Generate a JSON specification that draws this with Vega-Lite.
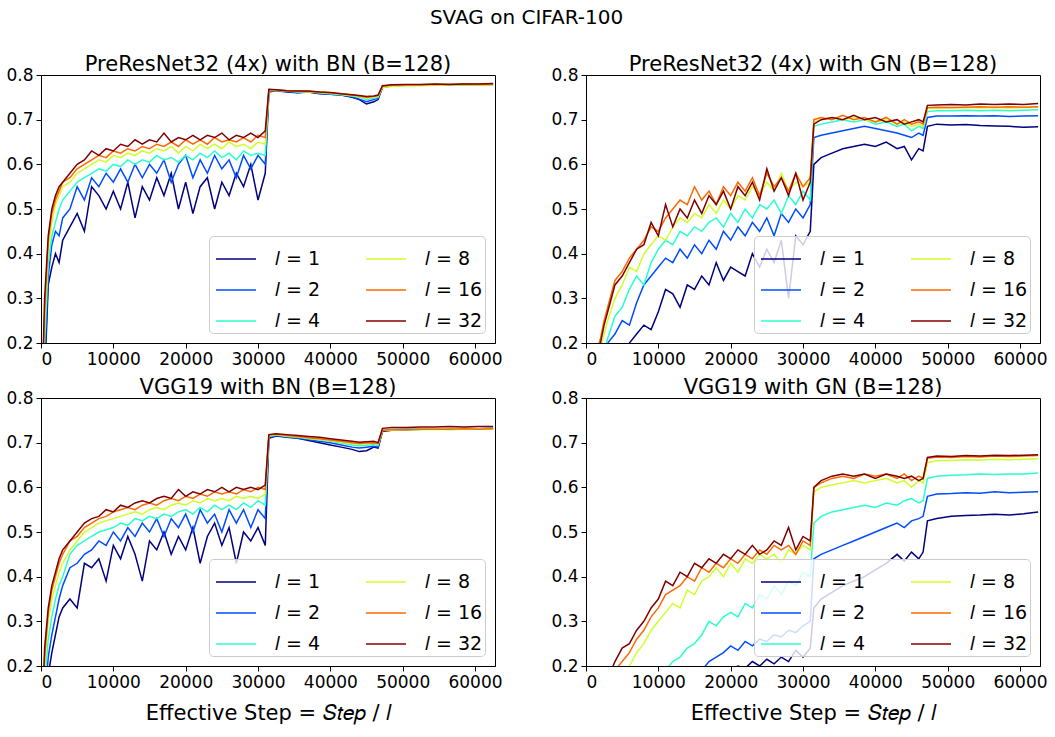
{
"$schema":"https://vega.github.io/schema/vega-lite/v6.json",
"title":{"text":"SVAG on CIFAR-100","fontSize":20,"fontWeight":"normal","font":"DejaVu Sans","color":"black","anchor":"middle","offset":26},
"padding":{"left":5,"top":7,"right":8,"bottom":3},
"background":"white",
"config":{
"font":"DejaVu Sans",
"view":{"stroke":"black","strokeWidth":1},
"axis":{"grid":false,"domainColor":"black","tickColor":"black","labelColor":"black","labelFontSize":17,"labelFont":"DejaVu Sans","tickSize":5,"labelPadding":3,"titleFontSize":21,"titleFontWeight":"normal","titleColor":"black","titleFont":"DejaVu Sans","domainWidth":1,"tickWidth":1},
"title":{"fontSize":21,"fontWeight":"normal","color":"black","font":"DejaVu Sans","offset":-9},
"legend":{"orient":"bottom-right","offset":10,"columns":2,"symbolType":"stroke","symbolSize":1600,"symbolStrokeWidth":1.5,"symbolOffset":4,"labelFontSize":19,"labelFont":"DejaVu Sans","labelColor":"black","fillColor":"rgba(255,255,255,0.8)","strokeColor":"#cccccc","cornerRadius":4,"padding":2,"rowPadding":-2,"columnPadding":40,"labelOffset":18,"title":null}
},
"columns":2,
"spacing":{"row":55,"column":91},
"bounds":"flush",
"resolve":{"scale":{"color":"independent"},"legend":{"color":"independent"}},
"datasets":{
"a":[
{"l":1,"x":0,"y":0.01},{"l":1,"x":500,"y":0.12},{"l":1,"x":1000,"y":0.33},{"l":1,"x":1500,"y":0.37},{"l":1,"x":2000,"y":0.4},{"l":1,"x":2500,"y":0.38},{"l":1,"x":3000,"y":0.43},{"l":1,"x":4000,"y":0.46},{"l":1,"x":5000,"y":0.49},{"l":1,"x":6000,"y":0.45},{"l":1,"x":7000,"y":0.55},{"l":1,"x":8000,"y":0.53},{"l":1,"x":9000,"y":0.5},{"l":1,"x":10000,"y":0.54},{"l":1,"x":11000,"y":0.5},{"l":1,"x":12000,"y":0.56},{"l":1,"x":13000,"y":0.48},{"l":1,"x":14000,"y":0.55},{"l":1,"x":15000,"y":0.52},{"l":1,"x":16000,"y":0.57},{"l":1,"x":17000,"y":0.53},{"l":1,"x":18000,"y":0.58},{"l":1,"x":19000,"y":0.5},{"l":1,"x":20000,"y":0.56},{"l":1,"x":21000,"y":0.49},{"l":1,"x":22000,"y":0.55},{"l":1,"x":23000,"y":0.57},{"l":1,"x":24000,"y":0.5},{"l":1,"x":25000,"y":0.56},{"l":1,"x":26000,"y":0.53},{"l":1,"x":27000,"y":0.58},{"l":1,"x":28000,"y":0.55},{"l":1,"x":29000,"y":0.6},{"l":1,"x":30000,"y":0.52},{"l":1,"x":31000,"y":0.58},
{"l":1,"x":31500,"y":0.762},{"l":1,"x":32500,"y":0.765},{"l":1,"x":34000,"y":0.762},{"l":1,"x":35500,"y":0.76},{"l":1,"x":37000,"y":0.762},{"l":1,"x":38500,"y":0.758},{"l":1,"x":40000,"y":0.757},{"l":1,"x":41500,"y":0.755},{"l":1,"x":43000,"y":0.75},{"l":1,"x":44000,"y":0.745},{"l":1,"x":45000,"y":0.735},{"l":1,"x":46000,"y":0.74},{"l":1,"x":46600,"y":0.745},
{"l":1,"x":47200,"y":0.772},{"l":1,"x":48500,"y":0.776},{"l":1,"x":50500,"y":0.777},{"l":1,"x":52500,"y":0.778},{"l":1,"x":54500,"y":0.777},{"l":1,"x":56500,"y":0.778},{"l":1,"x":58500,"y":0.779},{"l":1,"x":60500,"y":0.778},{"l":1,"x":62500,"y":0.779},
{"l":2,"x":0,"y":0.01},{"l":2,"x":500,"y":0.15},{"l":2,"x":1000,"y":0.35},{"l":2,"x":1500,"y":0.42},{"l":2,"x":2000,"y":0.45},{"l":2,"x":2500,"y":0.44},{"l":2,"x":3000,"y":0.48},{"l":2,"x":4000,"y":0.5},{"l":2,"x":5000,"y":0.55},{"l":2,"x":6000,"y":0.52},{"l":2,"x":7000,"y":0.57},{"l":2,"x":8000,"y":0.55},{"l":2,"x":9000,"y":0.58},{"l":2,"x":10000,"y":0.56},{"l":2,"x":11000,"y":0.59},{"l":2,"x":12000,"y":0.56},{"l":2,"x":13000,"y":0.6},{"l":2,"x":14000,"y":0.57},{"l":2,"x":15000,"y":0.6},{"l":2,"x":16000,"y":0.58},{"l":2,"x":17000,"y":0.61},{"l":2,"x":18000,"y":0.56},{"l":2,"x":19000,"y":0.6},{"l":2,"x":20000,"y":0.62},{"l":2,"x":21000,"y":0.57},{"l":2,"x":22000,"y":0.61},{"l":2,"x":23000,"y":0.58},{"l":2,"x":24000,"y":0.62},{"l":2,"x":25000,"y":0.59},{"l":2,"x":26000,"y":0.61},{"l":2,"x":27000,"y":0.57},{"l":2,"x":28000,"y":0.62},{"l":2,"x":29000,"y":0.59},{"l":2,"x":30000,"y":0.62},{"l":2,"x":31000,"y":0.6},
{"l":2,"x":31500,"y":0.764},{"l":2,"x":32500,"y":0.766},{"l":2,"x":34000,"y":0.763},{"l":2,"x":35500,"y":0.761},{"l":2,"x":37000,"y":0.762},{"l":2,"x":38500,"y":0.759},{"l":2,"x":40000,"y":0.757},{"l":2,"x":41500,"y":0.755},{"l":2,"x":43000,"y":0.752},{"l":2,"x":44000,"y":0.746},{"l":2,"x":45000,"y":0.74},{"l":2,"x":46000,"y":0.745},{"l":2,"x":46600,"y":0.748},
{"l":2,"x":47200,"y":0.774},{"l":2,"x":48500,"y":0.777},{"l":2,"x":50500,"y":0.777},{"l":2,"x":52500,"y":0.778},{"l":2,"x":54500,"y":0.778},{"l":2,"x":56500,"y":0.779},{"l":2,"x":58500,"y":0.778},{"l":2,"x":60500,"y":0.779},{"l":2,"x":62500,"y":0.779},
{"l":4,"x":0,"y":0.01},{"l":4,"x":500,"y":0.2},{"l":4,"x":1000,"y":0.38},{"l":4,"x":1500,"y":0.44},{"l":4,"x":2000,"y":0.47},{"l":4,"x":2500,"y":0.5},{"l":4,"x":3000,"y":0.52},{"l":4,"x":4000,"y":0.54},{"l":4,"x":5000,"y":0.56},{"l":4,"x":6000,"y":0.57},{"l":4,"x":7000,"y":0.58},{"l":4,"x":8000,"y":0.59},{"l":4,"x":9000,"y":0.585},{"l":4,"x":10000,"y":0.6},{"l":4,"x":11000,"y":0.595},{"l":4,"x":12000,"y":0.61},{"l":4,"x":13000,"y":0.6},{"l":4,"x":14000,"y":0.61},{"l":4,"x":15000,"y":0.605},{"l":4,"x":16000,"y":0.62},{"l":4,"x":17000,"y":0.61},{"l":4,"x":18000,"y":0.615},{"l":4,"x":19000,"y":0.605},{"l":4,"x":20000,"y":0.62},{"l":4,"x":21000,"y":0.61},{"l":4,"x":22000,"y":0.625},{"l":4,"x":23000,"y":0.615},{"l":4,"x":24000,"y":0.63},{"l":4,"x":25000,"y":0.615},{"l":4,"x":26000,"y":0.625},{"l":4,"x":27000,"y":0.61},{"l":4,"x":28000,"y":0.63},{"l":4,"x":29000,"y":0.62},{"l":4,"x":30000,"y":0.625},{"l":4,"x":31000,"y":0.62},
{"l":4,"x":31500,"y":0.766},{"l":4,"x":32500,"y":0.766},{"l":4,"x":34000,"y":0.764},{"l":4,"x":35500,"y":0.762},{"l":4,"x":37000,"y":0.763},{"l":4,"x":38500,"y":0.76},{"l":4,"x":40000,"y":0.758},{"l":4,"x":41500,"y":0.756},{"l":4,"x":43000,"y":0.753},{"l":4,"x":44000,"y":0.75},{"l":4,"x":45000,"y":0.745},{"l":4,"x":46000,"y":0.748},{"l":4,"x":46600,"y":0.75},
{"l":4,"x":47200,"y":0.775},{"l":4,"x":48500,"y":0.777},{"l":4,"x":50500,"y":0.778},{"l":4,"x":52500,"y":0.778},{"l":4,"x":54500,"y":0.779},{"l":4,"x":56500,"y":0.778},{"l":4,"x":58500,"y":0.779},{"l":4,"x":60500,"y":0.779},{"l":4,"x":62500,"y":0.78},
{"l":8,"x":0,"y":0.01},{"l":8,"x":500,"y":0.24},{"l":8,"x":1000,"y":0.41},{"l":8,"x":1500,"y":0.47},{"l":8,"x":2000,"y":0.51},{"l":8,"x":2500,"y":0.53},{"l":8,"x":3000,"y":0.55},{"l":8,"x":4000,"y":0.56},{"l":8,"x":5000,"y":0.58},{"l":8,"x":6000,"y":0.59},{"l":8,"x":7000,"y":0.6},{"l":8,"x":8000,"y":0.61},{"l":8,"x":9000,"y":0.605},{"l":8,"x":10000,"y":0.62},{"l":8,"x":11000,"y":0.615},{"l":8,"x":12000,"y":0.625},{"l":8,"x":13000,"y":0.62},{"l":8,"x":14000,"y":0.63},{"l":8,"x":15000,"y":0.625},{"l":8,"x":16000,"y":0.635},{"l":8,"x":17000,"y":0.63},{"l":8,"x":18000,"y":0.64},{"l":8,"x":19000,"y":0.625},{"l":8,"x":20000,"y":0.64},{"l":8,"x":21000,"y":0.63},{"l":8,"x":22000,"y":0.645},{"l":8,"x":23000,"y":0.635},{"l":8,"x":24000,"y":0.645},{"l":8,"x":25000,"y":0.635},{"l":8,"x":26000,"y":0.65},{"l":8,"x":27000,"y":0.64},{"l":8,"x":28000,"y":0.645},{"l":8,"x":29000,"y":0.635},{"l":8,"x":30000,"y":0.65},{"l":8,"x":31000,"y":0.645},
{"l":8,"x":31500,"y":0.765},{"l":8,"x":32500,"y":0.766},{"l":8,"x":34000,"y":0.764},{"l":8,"x":35500,"y":0.763},{"l":8,"x":37000,"y":0.762},{"l":8,"x":38500,"y":0.761},{"l":8,"x":40000,"y":0.759},{"l":8,"x":41500,"y":0.757},{"l":8,"x":43000,"y":0.754},{"l":8,"x":44000,"y":0.752},{"l":8,"x":45000,"y":0.748},{"l":8,"x":46000,"y":0.75},{"l":8,"x":46600,"y":0.752},
{"l":8,"x":47200,"y":0.772},{"l":8,"x":48500,"y":0.775},{"l":8,"x":50500,"y":0.776},{"l":8,"x":52500,"y":0.776},{"l":8,"x":54500,"y":0.777},{"l":8,"x":56500,"y":0.777},{"l":8,"x":58500,"y":0.778},{"l":8,"x":60500,"y":0.777},{"l":8,"x":62500,"y":0.778},
{"l":16,"x":0,"y":0.01},{"l":16,"x":500,"y":0.27},{"l":16,"x":1000,"y":0.43},{"l":16,"x":1500,"y":0.49},{"l":16,"x":2000,"y":0.52},{"l":16,"x":2500,"y":0.54},{"l":16,"x":3000,"y":0.56},{"l":16,"x":4000,"y":0.57},{"l":16,"x":5000,"y":0.59},{"l":16,"x":6000,"y":0.6},{"l":16,"x":7000,"y":0.61},{"l":16,"x":8000,"y":0.62},{"l":16,"x":9000,"y":0.615},{"l":16,"x":10000,"y":0.63},{"l":16,"x":11000,"y":0.625},{"l":16,"x":12000,"y":0.635},{"l":16,"x":13000,"y":0.63},{"l":16,"x":14000,"y":0.64},{"l":16,"x":15000,"y":0.635},{"l":16,"x":16000,"y":0.645},{"l":16,"x":17000,"y":0.64},{"l":16,"x":18000,"y":0.65},{"l":16,"x":19000,"y":0.64},{"l":16,"x":20000,"y":0.655},{"l":16,"x":21000,"y":0.645},{"l":16,"x":22000,"y":0.655},{"l":16,"x":23000,"y":0.645},{"l":16,"x":24000,"y":0.66},{"l":16,"x":25000,"y":0.65},{"l":16,"x":26000,"y":0.655},{"l":16,"x":27000,"y":0.65},{"l":16,"x":28000,"y":0.66},{"l":16,"x":29000,"y":0.65},{"l":16,"x":30000,"y":0.665},{"l":16,"x":31000,"y":0.66},
{"l":16,"x":31500,"y":0.767},{"l":16,"x":32500,"y":0.767},{"l":16,"x":34000,"y":0.765},{"l":16,"x":35500,"y":0.764},{"l":16,"x":37000,"y":0.763},{"l":16,"x":38500,"y":0.762},{"l":16,"x":40000,"y":0.76},{"l":16,"x":41500,"y":0.758},{"l":16,"x":43000,"y":0.755},{"l":16,"x":44000,"y":0.753},{"l":16,"x":45000,"y":0.75},{"l":16,"x":46000,"y":0.752},{"l":16,"x":46600,"y":0.754},
{"l":16,"x":47200,"y":0.775},{"l":16,"x":48500,"y":0.777},{"l":16,"x":50500,"y":0.778},{"l":16,"x":52500,"y":0.778},{"l":16,"x":54500,"y":0.779},{"l":16,"x":56500,"y":0.779},{"l":16,"x":58500,"y":0.78},{"l":16,"x":60500,"y":0.779},{"l":16,"x":62500,"y":0.78},
{"l":32,"x":0,"y":0.01},{"l":32,"x":500,"y":0.3},{"l":32,"x":1000,"y":0.44},{"l":32,"x":1500,"y":0.5},{"l":32,"x":2000,"y":0.53},{"l":32,"x":2500,"y":0.55},{"l":32,"x":3000,"y":0.56},{"l":32,"x":4000,"y":0.58},{"l":32,"x":5000,"y":0.6},{"l":32,"x":6000,"y":0.61},{"l":32,"x":7000,"y":0.63},{"l":32,"x":8000,"y":0.62},{"l":32,"x":9000,"y":0.635},{"l":32,"x":10000,"y":0.63},{"l":32,"x":11000,"y":0.645},{"l":32,"x":12000,"y":0.64},{"l":32,"x":13000,"y":0.655},{"l":32,"x":14000,"y":0.645},{"l":32,"x":15000,"y":0.655},{"l":32,"x":16000,"y":0.65},{"l":32,"x":17000,"y":0.67},{"l":32,"x":18000,"y":0.65},{"l":32,"x":19000,"y":0.66},{"l":32,"x":20000,"y":0.655},{"l":32,"x":21000,"y":0.665},{"l":32,"x":22000,"y":0.655},{"l":32,"x":23000,"y":0.665},{"l":32,"x":24000,"y":0.66},{"l":32,"x":25000,"y":0.67},{"l":32,"x":26000,"y":0.655},{"l":32,"x":27000,"y":0.665},{"l":32,"x":28000,"y":0.66},{"l":32,"x":29000,"y":0.67},{"l":32,"x":30000,"y":0.66},{"l":32,"x":31000,"y":0.675},
{"l":32,"x":31500,"y":0.768},{"l":32,"x":32500,"y":0.767},{"l":32,"x":34000,"y":0.765},{"l":32,"x":35500,"y":0.764},{"l":32,"x":37000,"y":0.764},{"l":32,"x":38500,"y":0.762},{"l":32,"x":40000,"y":0.761},{"l":32,"x":41500,"y":0.758},{"l":32,"x":43000,"y":0.756},{"l":32,"x":44000,"y":0.754},{"l":32,"x":45000,"y":0.752},{"l":32,"x":46000,"y":0.753},{"l":32,"x":46600,"y":0.755},
{"l":32,"x":47200,"y":0.776},{"l":32,"x":48500,"y":0.778},{"l":32,"x":50500,"y":0.779},{"l":32,"x":52500,"y":0.779},{"l":32,"x":54500,"y":0.78},{"l":32,"x":56500,"y":0.779},{"l":32,"x":58500,"y":0.78},{"l":32,"x":60500,"y":0.78},{"l":32,"x":62500,"y":0.781}
],
"b":[
{"l":1,"x":0,"y":0.01},{"l":1,"x":5000,"y":0.15},{"l":1,"x":6000,"y":0.2},{"l":1,"x":7000,"y":0.22},{"l":1,"x":8000,"y":0.24},{"l":1,"x":9000,"y":0.23},{"l":1,"x":10000,"y":0.27},{"l":1,"x":11000,"y":0.32},{"l":1,"x":12000,"y":0.31},{"l":1,"x":13000,"y":0.28},{"l":1,"x":14000,"y":0.33},{"l":1,"x":15000,"y":0.32},{"l":1,"x":16000,"y":0.35},{"l":1,"x":17000,"y":0.33},{"l":1,"x":18000,"y":0.38},{"l":1,"x":19000,"y":0.34},{"l":1,"x":20000,"y":0.37},{"l":1,"x":21000,"y":0.36},{"l":1,"x":22000,"y":0.35},{"l":1,"x":23000,"y":0.4},{"l":1,"x":24000,"y":0.37},{"l":1,"x":25000,"y":0.41},{"l":1,"x":26000,"y":0.38},{"l":1,"x":27000,"y":0.43},{"l":1,"x":28000,"y":0.3},{"l":1,"x":29000,"y":0.44},{"l":1,"x":30000,"y":0.42},{"l":1,"x":31000,"y":0.45},
{"l":1,"x":31500,"y":0.6},{"l":1,"x":32500,"y":0.615},{"l":1,"x":34000,"y":0.625},{"l":1,"x":35500,"y":0.635},{"l":1,"x":37000,"y":0.64},{"l":1,"x":38500,"y":0.645},{"l":1,"x":40000,"y":0.64},{"l":1,"x":41500,"y":0.65},{"l":1,"x":43000,"y":0.635},{"l":1,"x":44000,"y":0.64},{"l":1,"x":45000,"y":0.61},{"l":1,"x":46000,"y":0.635},{"l":1,"x":46600,"y":0.63},
{"l":1,"x":47200,"y":0.685},{"l":1,"x":48500,"y":0.69},{"l":1,"x":50500,"y":0.688},{"l":1,"x":52500,"y":0.689},{"l":1,"x":54500,"y":0.687},{"l":1,"x":56500,"y":0.686},{"l":1,"x":58500,"y":0.685},{"l":1,"x":60500,"y":0.683},{"l":1,"x":62500,"y":0.684},
{"l":2,"x":0,"y":0.01},{"l":2,"x":2000,"y":0.12},{"l":2,"x":3000,"y":0.2},{"l":2,"x":4000,"y":0.22},{"l":2,"x":5000,"y":0.25},{"l":2,"x":6000,"y":0.24},{"l":2,"x":7000,"y":0.29},{"l":2,"x":8000,"y":0.33},{"l":2,"x":9000,"y":0.35},{"l":2,"x":10000,"y":0.37},{"l":2,"x":11000,"y":0.39},{"l":2,"x":12000,"y":0.38},{"l":2,"x":13000,"y":0.41},{"l":2,"x":14000,"y":0.39},{"l":2,"x":15000,"y":0.42},{"l":2,"x":16000,"y":0.4},{"l":2,"x":17000,"y":0.43},{"l":2,"x":18000,"y":0.41},{"l":2,"x":19000,"y":0.45},{"l":2,"x":20000,"y":0.43},{"l":2,"x":21000,"y":0.46},{"l":2,"x":22000,"y":0.44},{"l":2,"x":23000,"y":0.47},{"l":2,"x":24000,"y":0.45},{"l":2,"x":25000,"y":0.48},{"l":2,"x":26000,"y":0.44},{"l":2,"x":27000,"y":0.49},{"l":2,"x":28000,"y":0.47},{"l":2,"x":29000,"y":0.5},{"l":2,"x":30000,"y":0.48},{"l":2,"x":31000,"y":0.51},
{"l":2,"x":31500,"y":0.66},{"l":2,"x":32500,"y":0.665},{"l":2,"x":34000,"y":0.67},{"l":2,"x":35500,"y":0.675},{"l":2,"x":37000,"y":0.68},{"l":2,"x":38500,"y":0.685},{"l":2,"x":40000,"y":0.68},{"l":2,"x":41500,"y":0.675},{"l":2,"x":43000,"y":0.67},{"l":2,"x":44000,"y":0.665},{"l":2,"x":45000,"y":0.66},{"l":2,"x":46000,"y":0.67},{"l":2,"x":46600,"y":0.665},
{"l":2,"x":47200,"y":0.705},{"l":2,"x":48500,"y":0.708},{"l":2,"x":50500,"y":0.708},{"l":2,"x":52500,"y":0.709},{"l":2,"x":54500,"y":0.708},{"l":2,"x":56500,"y":0.709},{"l":2,"x":58500,"y":0.707},{"l":2,"x":60500,"y":0.708},{"l":2,"x":62500,"y":0.709},
{"l":4,"x":0,"y":0.01},{"l":4,"x":2000,"y":0.15},{"l":4,"x":3000,"y":0.21},{"l":4,"x":4000,"y":0.26},{"l":4,"x":5000,"y":0.28},{"l":4,"x":6000,"y":0.32},{"l":4,"x":7000,"y":0.35},{"l":4,"x":8000,"y":0.33},{"l":4,"x":9000,"y":0.38},{"l":4,"x":10000,"y":0.41},{"l":4,"x":11000,"y":0.43},{"l":4,"x":12000,"y":0.42},{"l":4,"x":13000,"y":0.45},{"l":4,"x":14000,"y":0.44},{"l":4,"x":15000,"y":0.46},{"l":4,"x":16000,"y":0.45},{"l":4,"x":17000,"y":0.47},{"l":4,"x":18000,"y":0.48},{"l":4,"x":19000,"y":0.46},{"l":4,"x":20000,"y":0.49},{"l":4,"x":21000,"y":0.47},{"l":4,"x":22000,"y":0.5},{"l":4,"x":23000,"y":0.48},{"l":4,"x":24000,"y":0.51},{"l":4,"x":25000,"y":0.5},{"l":4,"x":26000,"y":0.52},{"l":4,"x":27000,"y":0.49},{"l":4,"x":28000,"y":0.53},{"l":4,"x":29000,"y":0.51},{"l":4,"x":30000,"y":0.54},{"l":4,"x":31000,"y":0.52},
{"l":4,"x":31500,"y":0.685},{"l":4,"x":32500,"y":0.69},{"l":4,"x":34000,"y":0.695},{"l":4,"x":35500,"y":0.7},{"l":4,"x":37000,"y":0.695},{"l":4,"x":38500,"y":0.7},{"l":4,"x":40000,"y":0.69},{"l":4,"x":41500,"y":0.695},{"l":4,"x":43000,"y":0.685},{"l":4,"x":44000,"y":0.69},{"l":4,"x":45000,"y":0.675},{"l":4,"x":46000,"y":0.685},{"l":4,"x":46600,"y":0.68},
{"l":4,"x":47200,"y":0.718},{"l":4,"x":48500,"y":0.72},{"l":4,"x":50500,"y":0.72},{"l":4,"x":52500,"y":0.721},{"l":4,"x":54500,"y":0.72},{"l":4,"x":56500,"y":0.721},{"l":4,"x":58500,"y":0.72},{"l":4,"x":60500,"y":0.721},{"l":4,"x":62500,"y":0.722},
{"l":8,"x":0,"y":0.01},{"l":8,"x":1500,"y":0.15},{"l":8,"x":2500,"y":0.22},{"l":8,"x":3000,"y":0.25},{"l":8,"x":4000,"y":0.3},{"l":8,"x":5000,"y":0.33},{"l":8,"x":6000,"y":0.37},{"l":8,"x":7000,"y":0.36},{"l":8,"x":8000,"y":0.4},{"l":8,"x":9000,"y":0.42},{"l":8,"x":10000,"y":0.44},{"l":8,"x":11000,"y":0.43},{"l":8,"x":12000,"y":0.46},{"l":8,"x":13000,"y":0.48},{"l":8,"x":14000,"y":0.47},{"l":8,"x":15000,"y":0.49},{"l":8,"x":16000,"y":0.48},{"l":8,"x":17000,"y":0.51},{"l":8,"x":18000,"y":0.49},{"l":8,"x":19000,"y":0.52},{"l":8,"x":20000,"y":0.5},{"l":8,"x":21000,"y":0.53},{"l":8,"x":22000,"y":0.52},{"l":8,"x":23000,"y":0.55},{"l":8,"x":24000,"y":0.53},{"l":8,"x":25000,"y":0.56},{"l":8,"x":26000,"y":0.54},{"l":8,"x":27000,"y":0.58},{"l":8,"x":28000,"y":0.54},{"l":8,"x":29000,"y":0.56},{"l":8,"x":30000,"y":0.55},{"l":8,"x":31000,"y":0.56},
{"l":8,"x":31500,"y":0.695},{"l":8,"x":32500,"y":0.7},{"l":8,"x":34000,"y":0.705},{"l":8,"x":35500,"y":0.7},{"l":8,"x":37000,"y":0.705},{"l":8,"x":38500,"y":0.7},{"l":8,"x":40000,"y":0.695},{"l":8,"x":41500,"y":0.7},{"l":8,"x":43000,"y":0.69},{"l":8,"x":44000,"y":0.695},{"l":8,"x":45000,"y":0.685},{"l":8,"x":46000,"y":0.69},{"l":8,"x":46600,"y":0.685},
{"l":8,"x":47200,"y":0.725},{"l":8,"x":48500,"y":0.726},{"l":8,"x":50500,"y":0.726},{"l":8,"x":52500,"y":0.727},{"l":8,"x":54500,"y":0.726},{"l":8,"x":56500,"y":0.727},{"l":8,"x":58500,"y":0.726},{"l":8,"x":60500,"y":0.727},{"l":8,"x":62500,"y":0.728},
{"l":16,"x":0,"y":0.01},{"l":16,"x":1500,"y":0.18},{"l":16,"x":2000,"y":0.21},{"l":16,"x":2500,"y":0.25},{"l":16,"x":3000,"y":0.28},{"l":16,"x":4000,"y":0.34},{"l":16,"x":5000,"y":0.36},{"l":16,"x":6000,"y":0.39},{"l":16,"x":7000,"y":0.41},{"l":16,"x":8000,"y":0.43},{"l":16,"x":9000,"y":0.46},{"l":16,"x":10000,"y":0.45},{"l":16,"x":11000,"y":0.48},{"l":16,"x":12000,"y":0.5},{"l":16,"x":13000,"y":0.52},{"l":16,"x":14000,"y":0.51},{"l":16,"x":15000,"y":0.55},{"l":16,"x":16000,"y":0.52},{"l":16,"x":17000,"y":0.54},{"l":16,"x":18000,"y":0.51},{"l":16,"x":19000,"y":0.55},{"l":16,"x":20000,"y":0.53},{"l":16,"x":21000,"y":0.56},{"l":16,"x":22000,"y":0.54},{"l":16,"x":23000,"y":0.57},{"l":16,"x":24000,"y":0.53},{"l":16,"x":25000,"y":0.58},{"l":16,"x":26000,"y":0.55},{"l":16,"x":27000,"y":0.57},{"l":16,"x":28000,"y":0.54},{"l":16,"x":29000,"y":0.58},{"l":16,"x":30000,"y":0.55},{"l":16,"x":31000,"y":0.57},
{"l":16,"x":31500,"y":0.7},{"l":16,"x":32500,"y":0.705},{"l":16,"x":34000,"y":0.7},{"l":16,"x":35500,"y":0.71},{"l":16,"x":37000,"y":0.7},{"l":16,"x":38500,"y":0.705},{"l":16,"x":40000,"y":0.695},{"l":16,"x":41500,"y":0.705},{"l":16,"x":43000,"y":0.69},{"l":16,"x":44000,"y":0.7},{"l":16,"x":45000,"y":0.69},{"l":16,"x":46000,"y":0.695},{"l":16,"x":46600,"y":0.69},
{"l":16,"x":47200,"y":0.727},{"l":16,"x":48500,"y":0.728},{"l":16,"x":50500,"y":0.727},{"l":16,"x":52500,"y":0.728},{"l":16,"x":54500,"y":0.729},{"l":16,"x":56500,"y":0.728},{"l":16,"x":58500,"y":0.729},{"l":16,"x":60500,"y":0.728},{"l":16,"x":62500,"y":0.729},
{"l":32,"x":0,"y":0.01},{"l":32,"x":1500,"y":0.16},{"l":32,"x":2000,"y":0.2},{"l":32,"x":2500,"y":0.24},{"l":32,"x":3000,"y":0.27},{"l":32,"x":4000,"y":0.33},{"l":32,"x":5000,"y":0.35},{"l":32,"x":6000,"y":0.38},{"l":32,"x":7000,"y":0.41},{"l":32,"x":8000,"y":0.42},{"l":32,"x":9000,"y":0.47},{"l":32,"x":10000,"y":0.44},{"l":32,"x":11000,"y":0.51},{"l":32,"x":12000,"y":0.46},{"l":32,"x":13000,"y":0.5},{"l":32,"x":14000,"y":0.48},{"l":32,"x":15000,"y":0.52},{"l":32,"x":16000,"y":0.49},{"l":32,"x":17000,"y":0.53},{"l":32,"x":18000,"y":0.51},{"l":32,"x":19000,"y":0.54},{"l":32,"x":20000,"y":0.5},{"l":32,"x":21000,"y":0.55},{"l":32,"x":22000,"y":0.53},{"l":32,"x":23000,"y":0.56},{"l":32,"x":24000,"y":0.52},{"l":32,"x":25000,"y":0.59},{"l":32,"x":26000,"y":0.54},{"l":32,"x":27000,"y":0.57},{"l":32,"x":28000,"y":0.53},{"l":32,"x":29000,"y":0.58},{"l":32,"x":30000,"y":0.52},{"l":32,"x":31000,"y":0.56},
{"l":32,"x":31500,"y":0.69},{"l":32,"x":32500,"y":0.7},{"l":32,"x":34000,"y":0.705},{"l":32,"x":35500,"y":0.7},{"l":32,"x":37000,"y":0.71},{"l":32,"x":38500,"y":0.7},{"l":32,"x":40000,"y":0.705},{"l":32,"x":41500,"y":0.695},{"l":32,"x":43000,"y":0.7},{"l":32,"x":44000,"y":0.69},{"l":32,"x":45000,"y":0.695},{"l":32,"x":46000,"y":0.7},{"l":32,"x":46600,"y":0.695},
{"l":32,"x":47200,"y":0.732},{"l":32,"x":48500,"y":0.733},{"l":32,"x":50500,"y":0.734},{"l":32,"x":52500,"y":0.733},{"l":32,"x":54500,"y":0.735},{"l":32,"x":56500,"y":0.734},{"l":32,"x":58500,"y":0.735},{"l":32,"x":60500,"y":0.734},{"l":32,"x":62500,"y":0.736}
],
"c":[
{"l":1,"x":0,"y":0.01},{"l":1,"x":500,"y":0.08},{"l":1,"x":1000,"y":0.18},{"l":1,"x":1500,"y":0.23},{"l":1,"x":2000,"y":0.27},{"l":1,"x":2500,"y":0.31},{"l":1,"x":3000,"y":0.33},{"l":1,"x":4000,"y":0.35},{"l":1,"x":5000,"y":0.33},{"l":1,"x":6000,"y":0.43},{"l":1,"x":7000,"y":0.42},{"l":1,"x":8000,"y":0.44},{"l":1,"x":9000,"y":0.39},{"l":1,"x":10000,"y":0.47},{"l":1,"x":11000,"y":0.44},{"l":1,"x":12000,"y":0.49},{"l":1,"x":13000,"y":0.45},{"l":1,"x":14000,"y":0.39},{"l":1,"x":15000,"y":0.48},{"l":1,"x":16000,"y":0.46},{"l":1,"x":17000,"y":0.5},{"l":1,"x":18000,"y":0.45},{"l":1,"x":19000,"y":0.49},{"l":1,"x":20000,"y":0.46},{"l":1,"x":21000,"y":0.51},{"l":1,"x":22000,"y":0.43},{"l":1,"x":23000,"y":0.49},{"l":1,"x":24000,"y":0.52},{"l":1,"x":25000,"y":0.47},{"l":1,"x":26000,"y":0.51},{"l":1,"x":27000,"y":0.43},{"l":1,"x":28000,"y":0.5},{"l":1,"x":29000,"y":0.48},{"l":1,"x":30000,"y":0.51},{"l":1,"x":31000,"y":0.47},
{"l":1,"x":31500,"y":0.71},{"l":1,"x":32500,"y":0.715},{"l":1,"x":34000,"y":0.712},{"l":1,"x":35500,"y":0.71},{"l":1,"x":37000,"y":0.705},{"l":1,"x":38500,"y":0.7},{"l":1,"x":40000,"y":0.695},{"l":1,"x":41500,"y":0.69},{"l":1,"x":43000,"y":0.685},{"l":1,"x":44000,"y":0.68},{"l":1,"x":45000,"y":0.682},{"l":1,"x":46000,"y":0.69},{"l":1,"x":46600,"y":0.688},
{"l":1,"x":47200,"y":0.725},{"l":1,"x":48500,"y":0.728},{"l":1,"x":50500,"y":0.729},{"l":1,"x":52500,"y":0.73},{"l":1,"x":54500,"y":0.73},{"l":1,"x":56500,"y":0.731},{"l":1,"x":58500,"y":0.73},{"l":1,"x":60500,"y":0.731},{"l":1,"x":62500,"y":0.731},
{"l":2,"x":0,"y":0.01},{"l":2,"x":500,"y":0.12},{"l":2,"x":1000,"y":0.22},{"l":2,"x":1500,"y":0.27},{"l":2,"x":2000,"y":0.31},{"l":2,"x":2500,"y":0.35},{"l":2,"x":3000,"y":0.38},{"l":2,"x":4000,"y":0.42},{"l":2,"x":5000,"y":0.43},{"l":2,"x":6000,"y":0.45},{"l":2,"x":7000,"y":0.46},{"l":2,"x":8000,"y":0.48},{"l":2,"x":9000,"y":0.47},{"l":2,"x":10000,"y":0.5},{"l":2,"x":11000,"y":0.48},{"l":2,"x":12000,"y":0.51},{"l":2,"x":13000,"y":0.49},{"l":2,"x":14000,"y":0.52},{"l":2,"x":15000,"y":0.5},{"l":2,"x":16000,"y":0.53},{"l":2,"x":17000,"y":0.49},{"l":2,"x":18000,"y":0.53},{"l":2,"x":19000,"y":0.51},{"l":2,"x":20000,"y":0.54},{"l":2,"x":21000,"y":0.5},{"l":2,"x":22000,"y":0.55},{"l":2,"x":23000,"y":0.52},{"l":2,"x":24000,"y":0.54},{"l":2,"x":25000,"y":0.5},{"l":2,"x":26000,"y":0.55},{"l":2,"x":27000,"y":0.52},{"l":2,"x":28000,"y":0.55},{"l":2,"x":29000,"y":0.51},{"l":2,"x":30000,"y":0.55},{"l":2,"x":31000,"y":0.53},
{"l":2,"x":31500,"y":0.712},{"l":2,"x":32500,"y":0.716},{"l":2,"x":34000,"y":0.713},{"l":2,"x":35500,"y":0.71},{"l":2,"x":37000,"y":0.707},{"l":2,"x":38500,"y":0.703},{"l":2,"x":40000,"y":0.7},{"l":2,"x":41500,"y":0.695},{"l":2,"x":43000,"y":0.69},{"l":2,"x":44000,"y":0.688},{"l":2,"x":45000,"y":0.69},{"l":2,"x":46000,"y":0.692},{"l":2,"x":46600,"y":0.69},
{"l":2,"x":47200,"y":0.727},{"l":2,"x":48500,"y":0.729},{"l":2,"x":50500,"y":0.73},{"l":2,"x":52500,"y":0.73},{"l":2,"x":54500,"y":0.731},{"l":2,"x":56500,"y":0.73},{"l":2,"x":58500,"y":0.731},{"l":2,"x":60500,"y":0.731},{"l":2,"x":62500,"y":0.732},
{"l":4,"x":0,"y":0.01},{"l":4,"x":500,"y":0.16},{"l":4,"x":1000,"y":0.26},{"l":4,"x":1500,"y":0.31},{"l":4,"x":2000,"y":0.35},{"l":4,"x":2500,"y":0.38},{"l":4,"x":3000,"y":0.4},{"l":4,"x":4000,"y":0.45},{"l":4,"x":5000,"y":0.47},{"l":4,"x":6000,"y":0.48},{"l":4,"x":7000,"y":0.49},{"l":4,"x":8000,"y":0.5},{"l":4,"x":9000,"y":0.505},{"l":4,"x":10000,"y":0.51},{"l":4,"x":11000,"y":0.52},{"l":4,"x":12000,"y":0.515},{"l":4,"x":13000,"y":0.53},{"l":4,"x":14000,"y":0.525},{"l":4,"x":15000,"y":0.535},{"l":4,"x":16000,"y":0.53},{"l":4,"x":17000,"y":0.54},{"l":4,"x":18000,"y":0.535},{"l":4,"x":19000,"y":0.545},{"l":4,"x":20000,"y":0.55},{"l":4,"x":21000,"y":0.54},{"l":4,"x":22000,"y":0.555},{"l":4,"x":23000,"y":0.545},{"l":4,"x":24000,"y":0.56},{"l":4,"x":25000,"y":0.55},{"l":4,"x":26000,"y":0.56},{"l":4,"x":27000,"y":0.55},{"l":4,"x":28000,"y":0.565},{"l":4,"x":29000,"y":0.555},{"l":4,"x":30000,"y":0.57},{"l":4,"x":31000,"y":0.56},
{"l":4,"x":31500,"y":0.714},{"l":4,"x":32500,"y":0.717},{"l":4,"x":34000,"y":0.714},{"l":4,"x":35500,"y":0.712},{"l":4,"x":37000,"y":0.709},{"l":4,"x":38500,"y":0.706},{"l":4,"x":40000,"y":0.703},{"l":4,"x":41500,"y":0.699},{"l":4,"x":43000,"y":0.695},{"l":4,"x":44000,"y":0.693},{"l":4,"x":45000,"y":0.694},{"l":4,"x":46000,"y":0.696},{"l":4,"x":46600,"y":0.694},
{"l":4,"x":47200,"y":0.728},{"l":4,"x":48500,"y":0.73},{"l":4,"x":50500,"y":0.73},{"l":4,"x":52500,"y":0.731},{"l":4,"x":54500,"y":0.731},{"l":4,"x":56500,"y":0.731},{"l":4,"x":58500,"y":0.732},{"l":4,"x":60500,"y":0.731},{"l":4,"x":62500,"y":0.732},
{"l":8,"x":0,"y":0.01},{"l":8,"x":500,"y":0.2},{"l":8,"x":1000,"y":0.3},{"l":8,"x":1500,"y":0.35},{"l":8,"x":2000,"y":0.38},{"l":8,"x":2500,"y":0.41},{"l":8,"x":3000,"y":0.43},{"l":8,"x":4000,"y":0.46},{"l":8,"x":5000,"y":0.48},{"l":8,"x":6000,"y":0.5},{"l":8,"x":7000,"y":0.51},{"l":8,"x":8000,"y":0.52},{"l":8,"x":9000,"y":0.525},{"l":8,"x":10000,"y":0.53},{"l":8,"x":11000,"y":0.535},{"l":8,"x":12000,"y":0.54},{"l":8,"x":13000,"y":0.545},{"l":8,"x":14000,"y":0.54},{"l":8,"x":15000,"y":0.55},{"l":8,"x":16000,"y":0.555},{"l":8,"x":17000,"y":0.55},{"l":8,"x":18000,"y":0.56},{"l":8,"x":19000,"y":0.565},{"l":8,"x":20000,"y":0.56},{"l":8,"x":21000,"y":0.57},{"l":8,"x":22000,"y":0.565},{"l":8,"x":23000,"y":0.575},{"l":8,"x":24000,"y":0.57},{"l":8,"x":25000,"y":0.575},{"l":8,"x":26000,"y":0.57},{"l":8,"x":27000,"y":0.58},{"l":8,"x":28000,"y":0.575},{"l":8,"x":29000,"y":0.58},{"l":8,"x":30000,"y":0.575},{"l":8,"x":31000,"y":0.585},
{"l":8,"x":31500,"y":0.716},{"l":8,"x":32500,"y":0.718},{"l":8,"x":34000,"y":0.715},{"l":8,"x":35500,"y":0.713},{"l":8,"x":37000,"y":0.71},{"l":8,"x":38500,"y":0.707},{"l":8,"x":40000,"y":0.705},{"l":8,"x":41500,"y":0.701},{"l":8,"x":43000,"y":0.698},{"l":8,"x":44000,"y":0.696},{"l":8,"x":45000,"y":0.697},{"l":8,"x":46000,"y":0.699},{"l":8,"x":46600,"y":0.697},
{"l":8,"x":47200,"y":0.727},{"l":8,"x":48500,"y":0.728},{"l":8,"x":50500,"y":0.729},{"l":8,"x":52500,"y":0.729},{"l":8,"x":54500,"y":0.73},{"l":8,"x":56500,"y":0.729},{"l":8,"x":58500,"y":0.73},{"l":8,"x":60500,"y":0.73},{"l":8,"x":62500,"y":0.73},
{"l":16,"x":0,"y":0.01},{"l":16,"x":500,"y":0.22},{"l":16,"x":1000,"y":0.32},{"l":16,"x":1500,"y":0.37},{"l":16,"x":2000,"y":0.4},{"l":16,"x":2500,"y":0.43},{"l":16,"x":3000,"y":0.45},{"l":16,"x":4000,"y":0.48},{"l":16,"x":5000,"y":0.49},{"l":16,"x":6000,"y":0.51},{"l":16,"x":7000,"y":0.52},{"l":16,"x":8000,"y":0.53},{"l":16,"x":9000,"y":0.535},{"l":16,"x":10000,"y":0.545},{"l":16,"x":11000,"y":0.55},{"l":16,"x":12000,"y":0.555},{"l":16,"x":13000,"y":0.55},{"l":16,"x":14000,"y":0.56},{"l":16,"x":15000,"y":0.565},{"l":16,"x":16000,"y":0.56},{"l":16,"x":17000,"y":0.57},{"l":16,"x":18000,"y":0.575},{"l":16,"x":19000,"y":0.57},{"l":16,"x":20000,"y":0.58},{"l":16,"x":21000,"y":0.575},{"l":16,"x":22000,"y":0.585},{"l":16,"x":23000,"y":0.58},{"l":16,"x":24000,"y":0.59},{"l":16,"x":25000,"y":0.585},{"l":16,"x":26000,"y":0.59},{"l":16,"x":27000,"y":0.585},{"l":16,"x":28000,"y":0.595},{"l":16,"x":29000,"y":0.59},{"l":16,"x":30000,"y":0.6},{"l":16,"x":31000,"y":0.595},
{"l":16,"x":31500,"y":0.717},{"l":16,"x":32500,"y":0.719},{"l":16,"x":34000,"y":0.716},{"l":16,"x":35500,"y":0.714},{"l":16,"x":37000,"y":0.711},{"l":16,"x":38500,"y":0.709},{"l":16,"x":40000,"y":0.706},{"l":16,"x":41500,"y":0.703},{"l":16,"x":43000,"y":0.7},{"l":16,"x":44000,"y":0.698},{"l":16,"x":45000,"y":0.699},{"l":16,"x":46000,"y":0.7},{"l":16,"x":46600,"y":0.698},
{"l":16,"x":47200,"y":0.728},{"l":16,"x":48500,"y":0.729},{"l":16,"x":50500,"y":0.729},{"l":16,"x":52500,"y":0.73},{"l":16,"x":54500,"y":0.73},{"l":16,"x":56500,"y":0.73},{"l":16,"x":58500,"y":0.731},{"l":16,"x":60500,"y":0.73},{"l":16,"x":62500,"y":0.731},
{"l":32,"x":0,"y":0.01},{"l":32,"x":500,"y":0.24},{"l":32,"x":1000,"y":0.33},{"l":32,"x":1500,"y":0.38},{"l":32,"x":2000,"y":0.41},{"l":32,"x":2500,"y":0.44},{"l":32,"x":3000,"y":0.46},{"l":32,"x":4000,"y":0.48},{"l":32,"x":5000,"y":0.5},{"l":32,"x":6000,"y":0.52},{"l":32,"x":7000,"y":0.53},{"l":32,"x":8000,"y":0.535},{"l":32,"x":9000,"y":0.55},{"l":32,"x":10000,"y":0.545},{"l":32,"x":11000,"y":0.56},{"l":32,"x":12000,"y":0.555},{"l":32,"x":13000,"y":0.565},{"l":32,"x":14000,"y":0.57},{"l":32,"x":15000,"y":0.565},{"l":32,"x":16000,"y":0.575},{"l":32,"x":17000,"y":0.58},{"l":32,"x":18000,"y":0.575},{"l":32,"x":19000,"y":0.595},{"l":32,"x":20000,"y":0.58},{"l":32,"x":21000,"y":0.59},{"l":32,"x":22000,"y":0.585},{"l":32,"x":23000,"y":0.595},{"l":32,"x":24000,"y":0.59},{"l":32,"x":25000,"y":0.6},{"l":32,"x":26000,"y":0.59},{"l":32,"x":27000,"y":0.6},{"l":32,"x":28000,"y":0.595},{"l":32,"x":29000,"y":0.6},{"l":32,"x":30000,"y":0.595},{"l":32,"x":31000,"y":0.605},
{"l":32,"x":31500,"y":0.718},{"l":32,"x":32500,"y":0.72},{"l":32,"x":34000,"y":0.718},{"l":32,"x":35500,"y":0.716},{"l":32,"x":37000,"y":0.714},{"l":32,"x":38500,"y":0.712},{"l":32,"x":40000,"y":0.709},{"l":32,"x":41500,"y":0.706},{"l":32,"x":43000,"y":0.703},{"l":32,"x":44000,"y":0.701},{"l":32,"x":45000,"y":0.702},{"l":32,"x":46000,"y":0.703},{"l":32,"x":46600,"y":0.7},
{"l":32,"x":47200,"y":0.732},{"l":32,"x":48500,"y":0.734},{"l":32,"x":50500,"y":0.734},{"l":32,"x":52500,"y":0.735},{"l":32,"x":54500,"y":0.735},{"l":32,"x":56500,"y":0.736},{"l":32,"x":58500,"y":0.735},{"l":32,"x":60500,"y":0.736},{"l":32,"x":62500,"y":0.736}
],
"d":[
{"l":1,"x":0,"y":0.01},{"l":1,"x":10000,"y":0.12},{"l":1,"x":20000,"y":0.19},{"l":1,"x":21000,"y":0.2},{"l":1,"x":22000,"y":0.195},{"l":1,"x":23000,"y":0.21},{"l":1,"x":24000,"y":0.2},{"l":1,"x":25000,"y":0.215},{"l":1,"x":26000,"y":0.205},{"l":1,"x":27000,"y":0.22},{"l":1,"x":28000,"y":0.21},{"l":1,"x":29000,"y":0.235},{"l":1,"x":30000,"y":0.22},{"l":1,"x":31000,"y":0.24},
{"l":1,"x":31500,"y":0.33},{"l":1,"x":32500,"y":0.35},{"l":1,"x":34000,"y":0.365},{"l":1,"x":35500,"y":0.38},{"l":1,"x":37000,"y":0.39},{"l":1,"x":38500,"y":0.4},{"l":1,"x":40000,"y":0.415},{"l":1,"x":41500,"y":0.43},{"l":1,"x":43000,"y":0.45},{"l":1,"x":44000,"y":0.435},{"l":1,"x":45000,"y":0.455},{"l":1,"x":46000,"y":0.44},{"l":1,"x":46600,"y":0.455},
{"l":1,"x":47200,"y":0.525},{"l":1,"x":48500,"y":0.53},{"l":1,"x":50500,"y":0.535},{"l":1,"x":52500,"y":0.537},{"l":1,"x":54500,"y":0.538},{"l":1,"x":56500,"y":0.54},{"l":1,"x":58500,"y":0.538},{"l":1,"x":60500,"y":0.541},{"l":1,"x":62500,"y":0.545},
{"l":2,"x":0,"y":0.01},{"l":2,"x":10000,"y":0.1},{"l":2,"x":15000,"y":0.17},{"l":2,"x":16000,"y":0.19},{"l":2,"x":17000,"y":0.21},{"l":2,"x":18000,"y":0.22},{"l":2,"x":19000,"y":0.23},{"l":2,"x":20000,"y":0.245},{"l":2,"x":21000,"y":0.235},{"l":2,"x":22000,"y":0.255},{"l":2,"x":23000,"y":0.245},{"l":2,"x":24000,"y":0.26},{"l":2,"x":25000,"y":0.255},{"l":2,"x":26000,"y":0.27},{"l":2,"x":27000,"y":0.265},{"l":2,"x":28000,"y":0.28},{"l":2,"x":29000,"y":0.275},{"l":2,"x":30000,"y":0.29},{"l":2,"x":31000,"y":0.3},
{"l":2,"x":31500,"y":0.44},{"l":2,"x":32500,"y":0.45},{"l":2,"x":34000,"y":0.46},{"l":2,"x":35500,"y":0.47},{"l":2,"x":37000,"y":0.48},{"l":2,"x":38500,"y":0.49},{"l":2,"x":40000,"y":0.5},{"l":2,"x":41500,"y":0.51},{"l":2,"x":43000,"y":0.52},{"l":2,"x":44000,"y":0.51},{"l":2,"x":45000,"y":0.525},{"l":2,"x":46000,"y":0.53},{"l":2,"x":46600,"y":0.535},
{"l":2,"x":47200,"y":0.58},{"l":2,"x":48500,"y":0.585},{"l":2,"x":50500,"y":0.586},{"l":2,"x":52500,"y":0.588},{"l":2,"x":54500,"y":0.587},{"l":2,"x":56500,"y":0.59},{"l":2,"x":58500,"y":0.588},{"l":2,"x":60500,"y":0.589},{"l":2,"x":62500,"y":0.59},
{"l":4,"x":0,"y":0.01},{"l":4,"x":8000,"y":0.12},{"l":4,"x":11000,"y":0.19},{"l":4,"x":12000,"y":0.21},{"l":4,"x":13000,"y":0.22},{"l":4,"x":14000,"y":0.24},{"l":4,"x":15000,"y":0.25},{"l":4,"x":16000,"y":0.27},{"l":4,"x":17000,"y":0.3},{"l":4,"x":18000,"y":0.29},{"l":4,"x":19000,"y":0.31},{"l":4,"x":20000,"y":0.32},{"l":4,"x":21000,"y":0.31},{"l":4,"x":22000,"y":0.34},{"l":4,"x":23000,"y":0.33},{"l":4,"x":24000,"y":0.36},{"l":4,"x":25000,"y":0.35},{"l":4,"x":26000,"y":0.38},{"l":4,"x":27000,"y":0.36},{"l":4,"x":28000,"y":0.39},{"l":4,"x":29000,"y":0.38},{"l":4,"x":30000,"y":0.41},{"l":4,"x":31000,"y":0.4},
{"l":4,"x":31500,"y":0.52},{"l":4,"x":32500,"y":0.535},{"l":4,"x":34000,"y":0.545},{"l":4,"x":35500,"y":0.55},{"l":4,"x":37000,"y":0.555},{"l":4,"x":38500,"y":0.56},{"l":4,"x":40000,"y":0.555},{"l":4,"x":41500,"y":0.565},{"l":4,"x":43000,"y":0.56},{"l":4,"x":44000,"y":0.57},{"l":4,"x":45000,"y":0.575},{"l":4,"x":46000,"y":0.565},{"l":4,"x":46600,"y":0.57},
{"l":4,"x":47200,"y":0.62},{"l":4,"x":48500,"y":0.625},{"l":4,"x":50500,"y":0.627},{"l":4,"x":52500,"y":0.628},{"l":4,"x":54500,"y":0.63},{"l":4,"x":56500,"y":0.629},{"l":4,"x":58500,"y":0.63},{"l":4,"x":60500,"y":0.63},{"l":4,"x":62500,"y":0.632},
{"l":8,"x":0,"y":0.01},{"l":8,"x":4000,"y":0.15},{"l":8,"x":5000,"y":0.18},{"l":8,"x":6000,"y":0.2},{"l":8,"x":7000,"y":0.23},{"l":8,"x":8000,"y":0.25},{"l":8,"x":9000,"y":0.28},{"l":8,"x":10000,"y":0.3},{"l":8,"x":11000,"y":0.32},{"l":8,"x":12000,"y":0.34},{"l":8,"x":13000,"y":0.33},{"l":8,"x":14000,"y":0.37},{"l":8,"x":15000,"y":0.36},{"l":8,"x":16000,"y":0.39},{"l":8,"x":17000,"y":0.4},{"l":8,"x":18000,"y":0.42},{"l":8,"x":19000,"y":0.4},{"l":8,"x":20000,"y":0.43},{"l":8,"x":21000,"y":0.41},{"l":8,"x":22000,"y":0.44},{"l":8,"x":23000,"y":0.43},{"l":8,"x":24000,"y":0.45},{"l":8,"x":25000,"y":0.44},{"l":8,"x":26000,"y":0.45},{"l":8,"x":27000,"y":0.43},{"l":8,"x":28000,"y":0.46},{"l":8,"x":29000,"y":0.45},{"l":8,"x":30000,"y":0.47},{"l":8,"x":31000,"y":0.46},
{"l":8,"x":31500,"y":0.59},{"l":8,"x":32500,"y":0.6},{"l":8,"x":34000,"y":0.605},{"l":8,"x":35500,"y":0.61},{"l":8,"x":37000,"y":0.615},{"l":8,"x":38500,"y":0.61},{"l":8,"x":40000,"y":0.615},{"l":8,"x":41500,"y":0.62},{"l":8,"x":43000,"y":0.61},{"l":8,"x":44000,"y":0.615},{"l":8,"x":45000,"y":0.6},{"l":8,"x":46000,"y":0.615},{"l":8,"x":46600,"y":0.61},
{"l":8,"x":47200,"y":0.655},{"l":8,"x":48500,"y":0.66},{"l":8,"x":50500,"y":0.66},{"l":8,"x":52500,"y":0.662},{"l":8,"x":54500,"y":0.661},{"l":8,"x":56500,"y":0.663},{"l":8,"x":58500,"y":0.662},{"l":8,"x":60500,"y":0.663},{"l":8,"x":62500,"y":0.664},
{"l":16,"x":0,"y":0.01},{"l":16,"x":3000,"y":0.15},{"l":16,"x":4000,"y":0.19},{"l":16,"x":5000,"y":0.21},{"l":16,"x":6000,"y":0.23},{"l":16,"x":7000,"y":0.26},{"l":16,"x":8000,"y":0.28},{"l":16,"x":9000,"y":0.31},{"l":16,"x":10000,"y":0.33},{"l":16,"x":11000,"y":0.36},{"l":16,"x":12000,"y":0.37},{"l":16,"x":13000,"y":0.38},{"l":16,"x":14000,"y":0.4},{"l":16,"x":15000,"y":0.39},{"l":16,"x":16000,"y":0.42},{"l":16,"x":17000,"y":0.41},{"l":16,"x":18000,"y":0.43},{"l":16,"x":19000,"y":0.42},{"l":16,"x":20000,"y":0.44},{"l":16,"x":21000,"y":0.43},{"l":16,"x":22000,"y":0.45},{"l":16,"x":23000,"y":0.44},{"l":16,"x":24000,"y":0.46},{"l":16,"x":25000,"y":0.45},{"l":16,"x":26000,"y":0.47},{"l":16,"x":27000,"y":0.46},{"l":16,"x":28000,"y":0.47},{"l":16,"x":29000,"y":0.45},{"l":16,"x":30000,"y":0.48},{"l":16,"x":31000,"y":0.47},
{"l":16,"x":31500,"y":0.6},{"l":16,"x":32500,"y":0.61},{"l":16,"x":34000,"y":0.62},{"l":16,"x":35500,"y":0.625},{"l":16,"x":37000,"y":0.62},{"l":16,"x":38500,"y":0.63},{"l":16,"x":40000,"y":0.625},{"l":16,"x":41500,"y":0.63},{"l":16,"x":43000,"y":0.62},{"l":16,"x":44000,"y":0.63},{"l":16,"x":45000,"y":0.615},{"l":16,"x":46000,"y":0.625},{"l":16,"x":46600,"y":0.62},
{"l":16,"x":47200,"y":0.665},{"l":16,"x":48500,"y":0.668},{"l":16,"x":50500,"y":0.667},{"l":16,"x":52500,"y":0.669},{"l":16,"x":54500,"y":0.668},{"l":16,"x":56500,"y":0.67},{"l":16,"x":58500,"y":0.669},{"l":16,"x":60500,"y":0.67},{"l":16,"x":62500,"y":0.671},
{"l":32,"x":0,"y":0.01},{"l":32,"x":3000,"y":0.17},{"l":32,"x":4000,"y":0.21},{"l":32,"x":5000,"y":0.24},{"l":32,"x":6000,"y":0.25},{"l":32,"x":7000,"y":0.28},{"l":32,"x":8000,"y":0.3},{"l":32,"x":9000,"y":0.33},{"l":32,"x":10000,"y":0.35},{"l":32,"x":11000,"y":0.39},{"l":32,"x":12000,"y":0.38},{"l":32,"x":13000,"y":0.41},{"l":32,"x":14000,"y":0.4},{"l":32,"x":15000,"y":0.43},{"l":32,"x":16000,"y":0.42},{"l":32,"x":17000,"y":0.44},{"l":32,"x":18000,"y":0.43},{"l":32,"x":19000,"y":0.45},{"l":32,"x":20000,"y":0.44},{"l":32,"x":21000,"y":0.46},{"l":32,"x":22000,"y":0.45},{"l":32,"x":23000,"y":0.47},{"l":32,"x":24000,"y":0.45},{"l":32,"x":25000,"y":0.46},{"l":32,"x":26000,"y":0.48},{"l":32,"x":27000,"y":0.47},{"l":32,"x":28000,"y":0.51},{"l":32,"x":29000,"y":0.46},{"l":32,"x":30000,"y":0.49},{"l":32,"x":31000,"y":0.48},
{"l":32,"x":31500,"y":0.6},{"l":32,"x":32500,"y":0.615},{"l":32,"x":34000,"y":0.625},{"l":32,"x":35500,"y":0.63},{"l":32,"x":37000,"y":0.625},{"l":32,"x":38500,"y":0.63},{"l":32,"x":40000,"y":0.62},{"l":32,"x":41500,"y":0.63},{"l":32,"x":43000,"y":0.625},{"l":32,"x":44000,"y":0.62},{"l":32,"x":45000,"y":0.625},{"l":32,"x":46000,"y":0.615},{"l":32,"x":46600,"y":0.62},
{"l":32,"x":47200,"y":0.667},{"l":32,"x":48500,"y":0.67},{"l":32,"x":50500,"y":0.669},{"l":32,"x":52500,"y":0.671},{"l":32,"x":54500,"y":0.67},{"l":32,"x":56500,"y":0.672},{"l":32,"x":58500,"y":0.671},{"l":32,"x":60500,"y":0.672},{"l":32,"x":62500,"y":0.673}
]
},
"concat":[
{"width":454,"height":268,"title":"PreResNet32 (4x) with BN (B=128)","data":{"name":"a"},
"mark":{"type":"line","strokeWidth":1.5,"clip":true},
"encoding":{
"x":{"field":"x","type":"quantitative","scale":{"domain":[0,62760],"nice":false,"zero":false},"axis":{"values":[0,10000,20000,30000,40000,50000,60000],"format":"d","title":null}},
"y":{"field":"y","type":"quantitative","scale":{"domain":[0.2,0.8],"nice":false,"zero":false},"axis":{"values":[0.2,0.3,0.4,0.5,0.6,0.7,0.8],"format":".1f","title":null}},
"color":{"field":"l","type":"nominal","scale":{"domain":[1,2,4,8,16,32],"range":["#000080","#004cff","#29ffce","#ceff29","#ff6800","#800000"]},"legend":{"labelExpr":"'𝑙 = ' + datum.label"}}}},
{"width":454,"height":268,"title":"PreResNet32 (4x) with GN (B=128)","data":{"name":"b"},
"mark":{"type":"line","strokeWidth":1.5,"clip":true},
"encoding":{
"x":{"field":"x","type":"quantitative","scale":{"domain":[0,62760],"nice":false,"zero":false},"axis":{"values":[0,10000,20000,30000,40000,50000,60000],"format":"d","title":null}},
"y":{"field":"y","type":"quantitative","scale":{"domain":[0.2,0.8],"nice":false,"zero":false},"axis":{"values":[0.2,0.3,0.4,0.5,0.6,0.7,0.8],"format":".1f","title":null}},
"color":{"field":"l","type":"nominal","scale":{"domain":[1,2,4,8,16,32],"range":["#000080","#004cff","#29ffce","#ceff29","#ff6800","#800000"]},"legend":{"labelExpr":"'𝑙 = ' + datum.label"}}}},
{"width":454,"height":268,"title":"VGG19 with BN (B=128)","data":{"name":"c"},
"mark":{"type":"line","strokeWidth":1.5,"clip":true},
"encoding":{
"x":{"field":"x","type":"quantitative","scale":{"domain":[0,62760],"nice":false,"zero":false},"axis":{"values":[0,10000,20000,30000,40000,50000,60000],"format":"d","title":"Effective Step = 𝑆𝑡𝑒𝑝 / 𝑙","titlePadding":12}},
"y":{"field":"y","type":"quantitative","scale":{"domain":[0.2,0.8],"nice":false,"zero":false},"axis":{"values":[0.2,0.3,0.4,0.5,0.6,0.7,0.8],"format":".1f","title":null}},
"color":{"field":"l","type":"nominal","scale":{"domain":[1,2,4,8,16,32],"range":["#000080","#004cff","#29ffce","#ceff29","#ff6800","#800000"]},"legend":{"labelExpr":"'𝑙 = ' + datum.label"}}}},
{"width":454,"height":268,"title":"VGG19 with GN (B=128)","data":{"name":"d"},
"mark":{"type":"line","strokeWidth":1.5,"clip":true},
"encoding":{
"x":{"field":"x","type":"quantitative","scale":{"domain":[0,62760],"nice":false,"zero":false},"axis":{"values":[0,10000,20000,30000,40000,50000,60000],"format":"d","title":"Effective Step = 𝑆𝑡𝑒𝑝 / 𝑙","titlePadding":12}},
"y":{"field":"y","type":"quantitative","scale":{"domain":[0.2,0.8],"nice":false,"zero":false},"axis":{"values":[0.2,0.3,0.4,0.5,0.6,0.7,0.8],"format":".1f","title":null}},
"color":{"field":"l","type":"nominal","scale":{"domain":[1,2,4,8,16,32],"range":["#000080","#004cff","#29ffce","#ceff29","#ff6800","#800000"]},"legend":{"labelExpr":"'𝑙 = ' + datum.label"}}}}
]
}
